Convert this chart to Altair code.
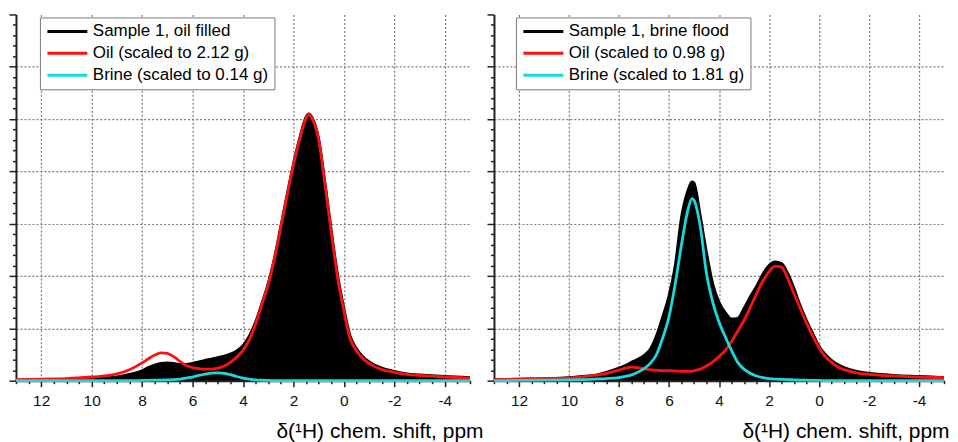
import altair as alt
import pandas as pd

# ---------------- data ----------------
ppm_left = [13, 12, 11, 10, 9.5, 9, 8.5, 8, 7.75, 7.5, 7.25, 7, 6.75, 6.5, 6.25, 6,
            5.75, 5.5, 5.25, 5, 4.75, 4.5, 4.25, 4, 3.75, 3.5, 3.25, 3, 2.75, 2.5,
            2.25, 2, 1.75, 1.5, 1.4, 1.25, 1, 0.75, 0.5, 0.25, 0, -0.25, -0.5,
            -0.75, -1, -1.5, -2, -2.5, -3, -4, -5]
sample_left = [0.01, 0.01, 0.02, 0.03, 0.05, 0.07, 0.12, 0.19, 0.25, 0.30, 0.33, 0.34,
               0.33, 0.31, 0.31, 0.33, 0.36, 0.39, 0.41, 0.44, 0.47, 0.51, 0.57, 0.67,
               0.85, 1.12, 1.48, 1.86, 2.35, 2.95, 3.56, 4.14, 4.64, 5.04, 5.10, 5.02,
               4.62, 3.78, 2.87, 2.02, 1.38, 0.85, 0.61, 0.46, 0.36, 0.24, 0.18, 0.13,
               0.11, 0.08, 0.06]
oil_left = [0.02, 0.03, 0.04, 0.07, 0.09, 0.13, 0.21, 0.34, 0.42, 0.49, 0.53, 0.52,
            0.46, 0.37, 0.29, 0.25, 0.23, 0.22, 0.22, 0.24, 0.28, 0.35, 0.45, 0.58,
            0.78, 1.08, 1.46, 1.84, 2.33, 2.93, 3.54, 4.12, 4.62, 5.02, 5.09, 5.00,
            4.60, 3.75, 2.83, 1.97, 1.33, 0.80, 0.57, 0.42, 0.33, 0.21, 0.16, 0.12,
            0.10, 0.07, 0.05]
brine_left = [0, 0, 0, 0, 0, 0, 0, 0.005, 0.007, 0.01, 0.012, 0.015,
              0.02, 0.03, 0.05, 0.07, 0.10, 0.125, 0.145, 0.15, 0.14, 0.115, 0.08, 0.05,
              0.03, 0.015, 0.008, 0.004, 0, 0, 0, 0, 0, 0, 0, 0,
              0, 0, 0, 0, 0, 0, 0, 0, 0, 0, 0, 0,
              0, 0, 0]
labels_left = ["Sample 1, oil filled", "Oil (scaled to 2.12 g)", "Brine (scaled to 0.14 g)"]

ppm_right = [13, 12, 11, 10, 9.5, 9, 8.5, 8, 7.75, 7.5, 7.25, 7, 6.75, 6.5, 6.25, 6,
             5.75, 5.5, 5.25, 5.08, 5, 4.75, 4.5, 4.25, 4, 3.75, 3.5, 3.25, 3, 2.75,
             2.5, 2.25, 2, 1.75, 1.5, 1.25, 1, 0.75, 0.5, 0.25, 0, -0.25, -0.5,
             -0.75, -1, -1.5, -2, -2.5, -3, -4, -5]
sample_right = [0.02, 0.03, 0.04, 0.06, 0.08, 0.10, 0.16, 0.24, 0.29, 0.35, 0.41, 0.48,
                0.60, 0.86, 1.22, 1.62, 2.20, 3.12, 3.62, 3.80, 3.78, 3.15, 2.45, 1.85,
                1.50, 1.30, 1.18, 1.19, 1.38, 1.60, 1.80, 2.03, 2.20, 2.27, 2.24, 2.05,
                1.76, 1.43, 1.15, 0.90, 0.66, 0.50, 0.39, 0.31, 0.25, 0.18, 0.14, 0.12,
                0.10, 0.08, 0.06]
oil_right = [0.02, 0.03, 0.04, 0.05, 0.07, 0.10, 0.14, 0.20, 0.24, 0.26, 0.25, 0.23,
             0.21, 0.20, 0.19, 0.19, 0.185, 0.18, 0.18, 0.18, 0.19, 0.22, 0.28, 0.36,
             0.46, 0.58, 0.75, 0.95, 1.15, 1.40, 1.66, 1.90, 2.08, 2.19, 2.17, 1.95,
             1.66, 1.38, 1.10, 0.85, 0.63, 0.46, 0.35, 0.26, 0.21, 0.15, 0.12, 0.10,
             0.09, 0.07, 0.06]
brine_right = [0, 0.005, 0.01, 0.015, 0.02, 0.03, 0.04, 0.06, 0.08, 0.11, 0.16, 0.23,
               0.33, 0.50, 0.82, 1.22, 1.85, 2.60, 3.25, 3.48, 3.45, 2.95, 2.05, 1.50,
               1.12, 0.84, 0.58, 0.35, 0.22, 0.14, 0.09, 0.06, 0.04, 0.03, 0.025, 0.02,
               0.015, 0.01, 0.01, 0.005, 0.005, 0, 0, 0, 0, 0, 0, 0,
               0, 0, 0]
labels_right = ["Sample 1, brine flood", "Oil (scaled to 0.98 g)", "Brine (scaled to 1.81 g)"]

x_ticks = [13 - 0.5 * i for i in range(37)]
y_ticks = [round(0.2 * i, 1) for i in range(36)]
colors = ["#000000", "#ff1010", "#19d9dc"]
x_title = "δ(¹H) chem. shift, ppm"

FONT = "Liberation Sans"
MAJOR_X = "abs(datum.value / 2 - round(datum.value / 2)) < 0.01"
MAJOR_Y = "abs(datum.value - round(datum.value)) < 0.01"


def panel(ppm, sample, oil, brine, labels, width, title_x, legend_x, legend_y):
    n = len(ppm)
    df = pd.DataFrame({
        "ppm": ppm * 3,
        "value": sample + oil + brine,
        "series": [labels[0]] * n + [labels[1]] * n + [labels[2]] * n,
    })
    x_axis = alt.Axis(
        values=x_ticks,
        labelExpr=f"{MAJOR_X} ? (datum.value < 0 ? '-' + abs(datum.value) : '' + datum.value) : ''",
        labelOverlap=False, labelFlush=False, labelFontSize=15.5, labelPadding=7,
        labelColor="#111111", labelFont=FONT,
        tickSize={"condition": {"test": MAJOR_X, "value": 6}, "value": 3},
        tickWidth=1.5, tickColor="#222222", domainColor="#222222", domainWidth=2,
        grid=True, gridDash=[2, 2], gridColor="#7a7a7a", gridWidth=1.2,
        gridOpacity={"condition": {"test": MAJOR_X, "value": 1}, "value": 0},
        title=x_title, titleFont=FONT, titleFontSize=21, titleFontWeight="normal",
        titleColor="#000000", titleAnchor="end", titleAlign="right",
        titleBaseline="alphabetic", titleX=title_x, titleY=57, zindex=0,
    )
    y_axis = alt.Axis(
        values=y_ticks, labels=False,
        tickSize={"condition": {"test": MAJOR_Y, "value": 7}, "value": 3.5},
        tickWidth=1.5, tickColor="#222222", domainColor="#222222", domainWidth=2,
        grid=True, gridDash=[2, 2], gridColor="#7a7a7a", gridWidth=1.2,
        gridOpacity={"condition": {"test": f"{MAJOR_Y} && datum.value > 0.5 && datum.value < 6.5",
                                   "value": 1}, "value": 0},
        title=None, zindex=0,
    )
    x = alt.X("ppm:Q", scale=alt.Scale(domain=[13, -5], nice=False, zero=False), axis=x_axis)
    y = alt.Y("value:Q", scale=alt.Scale(domain=[0, 7], nice=False, zero=False), axis=y_axis)
    legend = alt.Legend(
        title=None, orient="none", legendX=legend_x, legendY=legend_y,
        fillColor="white", strokeColor="#7a7a7a", padding=6, cornerRadius=0,
        symbolType="stroke", symbolSize=1600, symbolStrokeWidth=3, clipHeight=16,
        rowPadding=5, labelFontSize=17, labelFont=FONT, labelColor="#000000",
        labelLimit=500,
    )
    color = alt.Color("series:N", scale=alt.Scale(domain=labels, range=colors), legend=legend)
    base = alt.Chart(df)
    area = base.transform_filter(alt.datum.series == labels[0]).mark_area(
        color="black", interpolate="monotone").encode(x=x, y=y)
    layers = [area]
    for lab in labels:
        layers.append(
            base.transform_filter(alt.datum.series == lab)
            .mark_line(strokeWidth=2.8, interpolate="monotone")
            .encode(x=x, y=y, color=color)
        )
    return alt.layer(*layers).properties(width=width, height=367)


left = panel(ppm_left, sample_left, oil_left, brine_left, labels_left, 455, 468, 24, 3)
right = panel(ppm_right, sample_right, oil_right, brine_right, labels_right, 451, 456, 22, 3)

chart = (
    alt.hconcat(left, right, spacing=24, bounds="flush")
    .resolve_scale(color="independent")
    .properties(padding={"left": 0, "top": 5, "right": 0, "bottom": 0})
    .configure_view(stroke=None)
)

chart.save("out.html", embed_options={"renderer": "svg", "actions": False})
